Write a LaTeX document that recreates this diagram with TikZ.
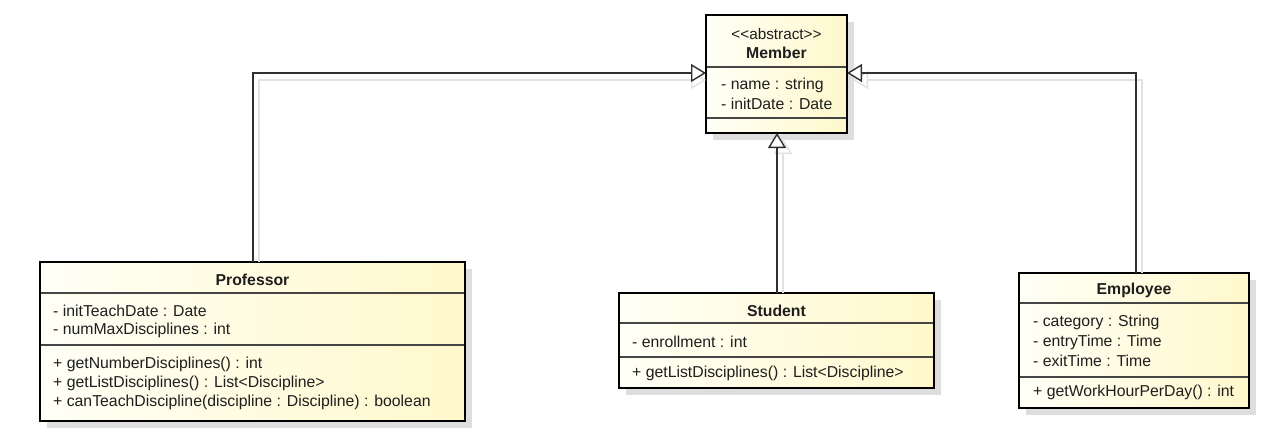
\documentclass[tikz,border=0pt]{standalone}
\usepackage{fontspec}
\setmainfont{Liberation Sans}
\usetikzlibrary{arrows.meta}
\definecolor{ylight}{HTML}{FFFFF6}
\definecolor{ydark}{HTML}{FFF8CC}
\definecolor{shadowc}{HTML}{DEDEDE}
\definecolor{txt}{HTML}{1E1E1E}
\definecolor{lnc}{HTML}{303030}
\definecolor{lnshadow}{HTML}{E2E2E2}
\tikzset{
  classbox/.style={draw=black, line width=2.6pt, left color=ylight, right color=ydark,
    inner sep=0pt, outer sep=0pt,
    preaction={fill=shadowc, transform canvas={shift={(7pt,-7pt)}}}},
  divider/.style={draw=lnc!90, line width=1.4pt},
  title/.style={font=\fontsize{15.8}{18}\selectfont\bfseries, text=txt, inner sep=0pt},
  stereo/.style={font=\fontsize{15.3}{18}\selectfont, text=txt, inner sep=0pt},
  member/.style={font=\fontsize{15.8}{18}\selectfont, text=txt, inner sep=0pt, anchor=west},
  gen/.style={draw=lnc, line width=1.4pt, -{Triangle[length=15pt,width=18pt,fill=white,line width=1.4pt]}},
  genshadow/.style={draw=lnshadow, line width=1.4pt, -{Triangle[length=15pt,width=18pt,fill=none,line width=1.4pt]}},
}
\begin{document}
\begin{tikzpicture}[x=1pt,y=-1pt]
\useasboundingbox (0,0) rectangle (1275,445);
\fill[white] (0,0) rectangle (1275,445);

% connector coordinates
\coordinate (pbend) at (253,73);
\coordinate (ebend) at (1136,73);
\coordinate (sx) at (777,0);
\coordinate (pbendS) at (259,80);
\coordinate (ebendS) at (1142,80);

% ---------- Member ----------
\node[classbox, minimum width=141pt, minimum height=118pt] (member) at (776.5,74) {};
\draw[divider] (707,67) -- (846,67);
\draw[divider] (707,118) -- (846,118);
\node[stereo] (mstereo) at (776.5,34) {<{}<abstract>{}>};
\node[title] (mtitle) at (776.5,53) {Member};
\node[member] (ma1) at (721,85) {- name : string};
\node[member] (ma2) at (721,104) {- initDate : Date};

% ---------- Professor ----------
\node[classbox, minimum width=425pt, minimum height=159pt] (prof) at (252.5,341.5) {};
\draw[divider] (41,293) -- (464,293);
\draw[divider] (41,345) -- (464,345);
\node[title] (ptitle) at (252.5,280) {Professor};
\node[member] (pa1) at (53,311) {- initTeachDate : Date};
\node[member] (pa2) at (53,330) {- numMaxDisciplines : int};
\node[member] (pm1) at (53,364) {+ getNumberDisciplines() : int};
\node[member] (pm2) at (53,383) {+ getListDisciplines() : List<Discipline>};
\node[member] (pm3) at (53,402) {+ canTeachDiscipline(discipline : Discipline) : boolean};

% ---------- Student ----------
\node[classbox, minimum width=315pt, minimum height=95pt] (student) at (776.5,340.5) {};
\draw[divider] (620,323) -- (933,323);
\draw[divider] (620,357) -- (933,357);
\node[title] (stitle) at (776.5,311) {Student};
\node[member] (sa1) at (632,342) {- enrollment : int};
\node[member] (sm1) at (632,373) {+ getListDisciplines() : List<Discipline>};

% ---------- Employee ----------
\node[classbox, minimum width=230pt, minimum height=135pt] (emp) at (1134,340.5) {};
\draw[divider] (1020,303) -- (1248,303);
\draw[divider] (1020,377) -- (1248,377);
\node[title] (etitle) at (1134,290) {Employee};
\node[member] (ea1) at (1033,322) {- category : String};
\node[member] (ea2) at (1033,342) {- entryTime : Time};
\node[member] (ea3) at (1033,361) {- exitTime : Time};
\node[member] (em1) at (1033,392) {+ getWorkHourPerDay() : int};

% ---------- connector shadows ----------
\draw[genshadow] ([xshift=6pt]prof.north -| pbend) -- (pbendS) -- ([yshift=-7pt]member.west |- pbend);
\draw[genshadow] ([xshift=6pt]emp.north -| ebend) -- (ebendS) -- ([xshift=6pt,yshift=-7pt]member.east |- ebend);
\draw[genshadow] ([xshift=6pt]student.north -| sx) -- ([xshift=6pt,yshift=-6pt]member.south -| sx);

% ---------- generalizations ----------
\draw[gen] (prof.north -| pbend) -- (pbend) -- (member.west |- pbend);
\draw[gen] (emp.north -| ebend) -- (ebend) -- (member.east |- ebend);
\draw[gen] (student.north -| sx) -- (member.south -| sx);
\end{tikzpicture}
\end{document}
